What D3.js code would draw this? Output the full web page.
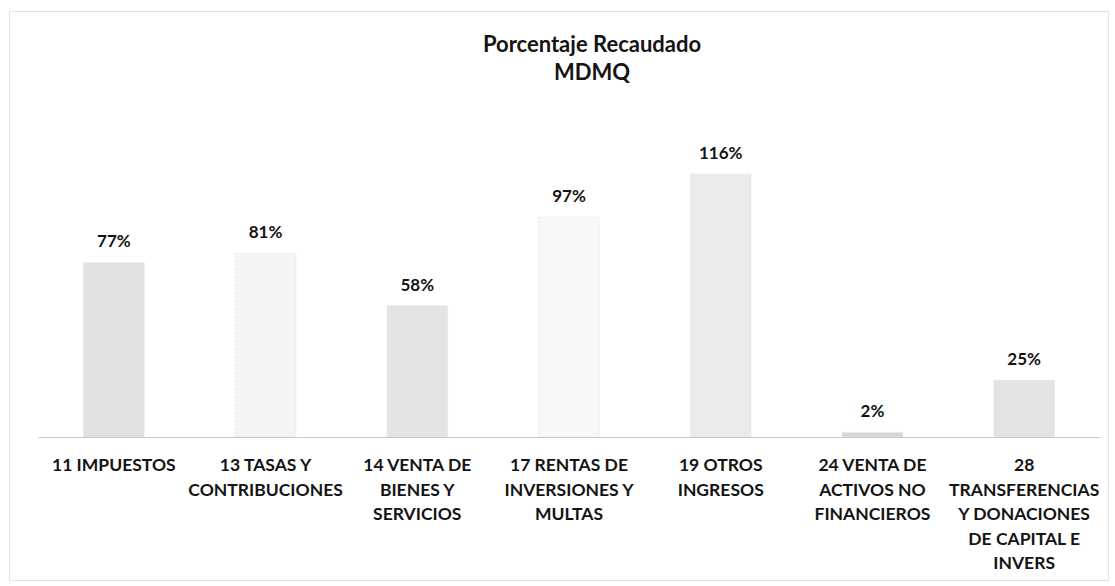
<!DOCTYPE html>
<html>
<head>
<meta charset="utf-8">
<script src="https://cdn.jsdelivr.net/npm/d3@7"></script>
<style>
  body { margin: 0; background: #fff; }
  text { font-family: Lato, 'Open Sans', sans-serif; font-weight: 700; fill: #141414; }
  .title { font-size: 22px; }
  .value { font-size: 17px; }
  .cat { font-size: 17.5px; }
</style>
</head>
<body>
<svg width="1115" height="586"></svg>
<script>
const categories = ['11', '13', '14', '17', '19', '24', '28'];
const values = [77, 81, 58, 97, 116, 2, 25];
const tickLabels = [
  ['11 IMPUESTOS'],
  ['13 TASAS Y', 'CONTRIBUCIONES'],
  ['14 VENTA DE', 'BIENES Y', 'SERVICIOS'],
  ['17 RENTAS DE', 'INVERSIONES Y', 'MULTAS'],
  ['19 OTROS', 'INGRESOS'],
  ['24 VENTA DE', 'ACTIVOS NO', 'FINANCIEROS'],
  ['28', 'TRANSFERENCIAS', 'Y DONACIONES', 'DE CAPITAL E', 'INVERS']
];
const titleLines = ['Porcentaje Recaudado', 'MDMQ'];

const svg = d3.select('svg');
const width = +svg.attr('width');
const height = +svg.attr('height');

const data = categories.map((c, i) => ({ key: c, value: values[i], label: tickLabels[i] }));

// faint frame of the scanned page
svg.append('rect')
  .attr('x', 9.5).attr('y', 11.5)
  .attr('width', width - 16).attr('height', height - 17)
  .attr('fill', 'none')
  .attr('stroke', '#e2e2e2');

const xScale = d3.scaleBand()
  .domain(categories)
  .range([38, 1100])
  .paddingInner(0.6)
  .paddingOuter(0.3);

const yScale = d3.scaleLinear()
  .domain([0, 120])
  .range([437, 165]);

const color = d3.scaleOrdinal()
  .domain(categories)
  .range(['#e1e1e1', '#f4f4f4', '#e4e4e4', '#f8f8f8', '#ebebeb', '#d6d6d6', '#e3e3e3']);

const g = svg.append('g');

g.selectAll('rect.bar').data(data).enter().append('rect')
  .attr('class', 'bar')
  .attr('x', d => xScale(d.key))
  .attr('y', d => yScale(d.value))
  .attr('width', xScale.bandwidth())
  .attr('height', d => yScale(0) - yScale(d.value))
  .attr('fill', d => color(d.key))
  .attr('stroke', '#e6e6e6')
  .attr('stroke-dasharray', '2,2');

// baseline
const xAxis = d3.axisBottom(xScale).tickSize(0).tickFormat('');
const xAxisGroup = g.append('g')
  .attr('transform', `translate(0, ${yScale(0)})`)
  .call(xAxis);
xAxisGroup.select('.domain').attr('stroke', '#c8c8c8');

// category labels
xAxisGroup.selectAll('.tick').each(function(d, i) {
  const t = d3.select(this).append('text')
    .attr('class', 'cat')
    .attr('text-anchor', 'middle')
    .attr('y', 34);
  tickLabels[i].forEach((line, j) => {
    t.append('tspan').attr('x', 0).attr('dy', j === 0 ? 0 : 24.5).text(line);
  });
});

// value labels
g.selectAll('text.value').data(data).enter().append('text')
  .attr('class', 'value')
  .attr('text-anchor', 'middle')
  .attr('x', d => xScale(d.key) + xScale.bandwidth() / 2)
  .attr('y', d => yScale(d.value) - 15)
  .text(d => d.value + '%');

// title
svg.append('text')
  .attr('class', 'title')
  .attr('text-anchor', 'middle')
  .attr('x', 592)
  .attr('y', 52)
  .selectAll('tspan').data(titleLines).enter().append('tspan')
  .attr('x', 592)
  .attr('dy', (d, i) => i === 0 ? 0 : 28)
  .text(d => d);
</script>
</body>
</html>
